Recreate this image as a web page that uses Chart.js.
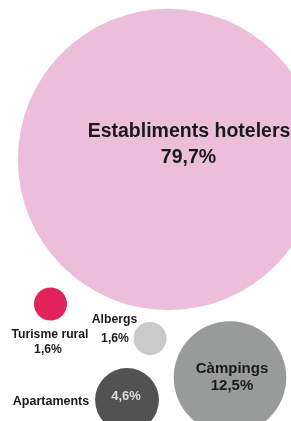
<!DOCTYPE html>
<html>
<head>
<meta charset="utf-8">
<script src="https://cdn.jsdelivr.net/npm/chart.js@4.4.1/dist/chart.umd.min.js"></script>
<style>
  html, body { margin: 0; padding: 0; background: #fff; }
  #wrap { width: 291px; height: 421px; }
</style>
</head>
<body>
<div id="wrap"><canvas id="chart" width="291" height="421"></canvas></div>
<script>
// Dades: percentatge per tipus d'allotjament
var categories = ["Establiments hotelers", "Càmpings", "Apartaments", "Turisme rural", "Albergs"];
var values = [79.7, 12.5, 4.6, 1.6, 1.6];
var valueLabels = ["79,7%", "12,5%", "4,6%", "1,6%", "1,6%"];

// Disposició de les bombolles (unitats de l'eix)
var posX = [168.5, 230, 127, 50.5, 150];
var posY = [159.5, 377.5, 400, 304, 338.5];
var colors = ["#ecbedc", "#999a9a", "#525252", "#e0245a", "#c9c9c9"];

// radi a partir de l'arrel del valor
var sizeFactor = 17.5;
var sizeOffset = -5.6;

// Posició dels textos respecte del centre de cada bombolla
var textSpots = [
    { name: [20.5, -22.5], value: [20, 3.5], nameSize: 19.5, valueSize: 19.5, valueColor: "#1a1a1a" },
    { name: [2, -5], value: [2, 12], nameSize: 15, valueSize: 15, valueColor: "#1a1a1a" },
    { name: [-76, 5], value: [-1, 0], nameSize: 12.5, valueSize: 13, valueColor: "#dedede" },
    { name: [-0.5, 34.3], value: [-2.5, 48.7], nameSize: 12.2, valueSize: 12.2, valueColor: "#1a1a1a" },
    { name: [-35.5, -15.2], value: [-35, 3.2], nameSize: 12.2, valueSize: 12.2, valueColor: "#1a1a1a" }
];

var points = values.map(function(v, i) {
    return { x: posX[i], y: posY[i], r: sizeFactor * Math.sqrt(v) + sizeOffset };
});

// Etiquetes dibuixades sobre les bombolles
var bubbleLabels = {
    id: "bubbleLabels",
    afterDatasetsDraw: function(chart) {
        var ctx = chart.ctx;
        var meta = chart.getDatasetMeta(0);
        ctx.save();
        ctx.textAlign = "center";
        ctx.textBaseline = "alphabetic";
        meta.data.forEach(function(el, i) {
            var s = textSpots[i];
            ctx.fillStyle = "#1a1a1a";
            ctx.font = "bold " + s.nameSize + "px 'Liberation Sans', Arial, sans-serif";
            ctx.fillText(categories[i], el.x + s.name[0], el.y + s.name[1]);
            ctx.fillStyle = s.valueColor;
            ctx.font = "bold " + s.valueSize + "px 'Liberation Sans', Arial, sans-serif";
            ctx.fillText(valueLabels[i], el.x + s.value[0], el.y + s.value[1]);
        });
        ctx.restore();
    }
};

var ctx = document.getElementById("chart").getContext("2d");
var chart = new Chart(ctx, {
    type: "bubble",
    data: {
        labels: categories,
        datasets: [{
            data: points,
            backgroundColor: colors,
            borderWidth: 0,
            hoverBorderWidth: 0,
            clip: false
        }]
    },
    options: {
        responsive: false,
        devicePixelRatio: 1,
        animation: false,
        layout: { padding: 0, autoPadding: false },
        scales: {
            x: { type: "linear", min: 0, max: 291, display: false },
            y: { type: "linear", min: 0, max: 421, reverse: true, display: false }
        },
        plugins: {
            legend: { display: false },
            tooltip: { enabled: false }
        }
    },
    plugins: [bubbleLabels]
});
</script>
</body>
</html>
